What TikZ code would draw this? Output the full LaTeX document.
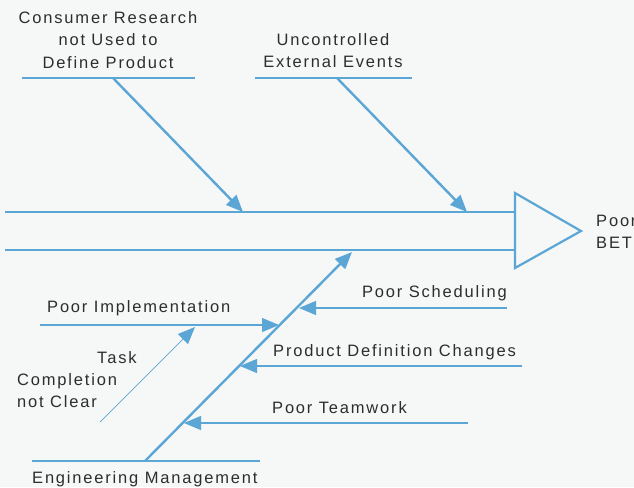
\documentclass[tikz,border=0pt]{standalone}
\usepackage{fontspec}
\setmainfont[LetterSpace=11]{Liberation Sans}
\usetikzlibrary{arrows.meta}
\definecolor{fishblue}{RGB}{92,166,214}
\definecolor{labelgray}{RGB}{45,45,45}
\definecolor{paper}{RGB}{246,248,247}
\begin{document}
\begin{tikzpicture}[x=1pt,y=-1pt,
  bone/.style={draw=fishblue,line width=2.2pt},
  rib/.style={draw=fishblue,line width=2.4pt,-{Triangle[length=17pt,width=14pt]}},
  twig/.style={draw=fishblue,line width=1.2pt,-{Triangle[length=17pt,width=14pt]}},
  fineline/.style={draw=fishblue,line width=0.7pt,-{Triangle[length=17pt,width=14pt]}},
  lbl/.style={text=labelgray,font=\fontsize{16.5}{22}\selectfont,inner sep=0pt},
]
\fill[paper] (0,0) rectangle (634,487);
\useasboundingbox (0,0) rectangle (634,487);

% ---- spine ----
\coordinate (sTL) at (5,212);
\coordinate (sTR) at (515,212);
\coordinate (sBL) at (5,250);
\coordinate (sBR) at (515,250);
\coordinate (hTop) at (515,193);
\coordinate (hTip) at (581,231);
\coordinate (hBot) at (515,268);
\draw[bone] (sTL) -- (sTR);
\draw[bone] (sBL) -- (sBR);
\draw[bone,line join=miter] (hTop) -- (hTip) -- (hBot) -- cycle;
\node[lbl,anchor=base west,align=left] (effect) at (596,248) {Poor\\BET};

% ---- consumer research ----
\coordinate (c1L) at (22,78);
\coordinate (c1R) at (195,78);
\coordinate (c1S) at (113,78);
\coordinate (c1T) at (243,212);
\draw[bone] (c1L) -- (c1R);
\draw[rib] (c1S) -- (c1T);
\node[lbl,anchor=base,align=center] (consumer) at (108,68)
  {Consumer Research\\not Used to\\Define Product};

% ---- uncontrolled events ----
\coordinate (c2L) at (255,78);
\coordinate (c2R) at (412,78);
\coordinate (c2S) at (337,78);
\coordinate (c2T) at (467,212);
\draw[bone] (c2L) -- (c2R);
\draw[rib] (c2S) -- (c2T);
\node[lbl,anchor=base,align=center] (uncontrolled) at (333,67)
  {Uncontrolled\\External Events};

% ---- engineering management ----
\coordinate (eL) at (32,461);
\coordinate (eR) at (260,461);
\coordinate (eS) at (145,461);
\coordinate (eT) at (352,252);
\draw[bone] (eL) -- (eR);
\draw[rib] (eS) -- (eT);
\node[lbl,anchor=base west] (engmgmt) at (32,483) {Engineering Management};

% ---- sub causes ----
\coordinate (piS) at (40,325);
\coordinate (piT) at (279,325);
\draw[twig] (piS) -- (piT);
\node[lbl,anchor=base west] (poorimpl) at (47,312) {Poor Implementation};

\coordinate (psS) at (507,308);
\coordinate (psT) at (299,308);
\draw[twig] (psS) -- (psT);
\node[lbl,anchor=base east] (poorsched) at (507,297) {Poor Scheduling};

\coordinate (pdS) at (522,366);
\coordinate (pdT) at (240,366);
\draw[twig] (pdS) -- (pdT);
\node[lbl,anchor=base west] (proddef) at (273,356) {Product Definition Changes};

\coordinate (ptS) at (468,423);
\coordinate (ptT) at (184,423);
\draw[twig] (ptS) -- (ptT);
\node[lbl,anchor=base west] (teamwork) at (272,413) {Poor Teamwork};

\coordinate (tcS) at (100,422);
\coordinate (tcT) at (195,327);
\draw[fineline] (tcS) -- (tcT);
\node[lbl,anchor=base west,align=left] (task) at (17,407)
  {\hspace*{80pt}Task\\Completion\\not Clear};
\end{tikzpicture}
\end{document}
